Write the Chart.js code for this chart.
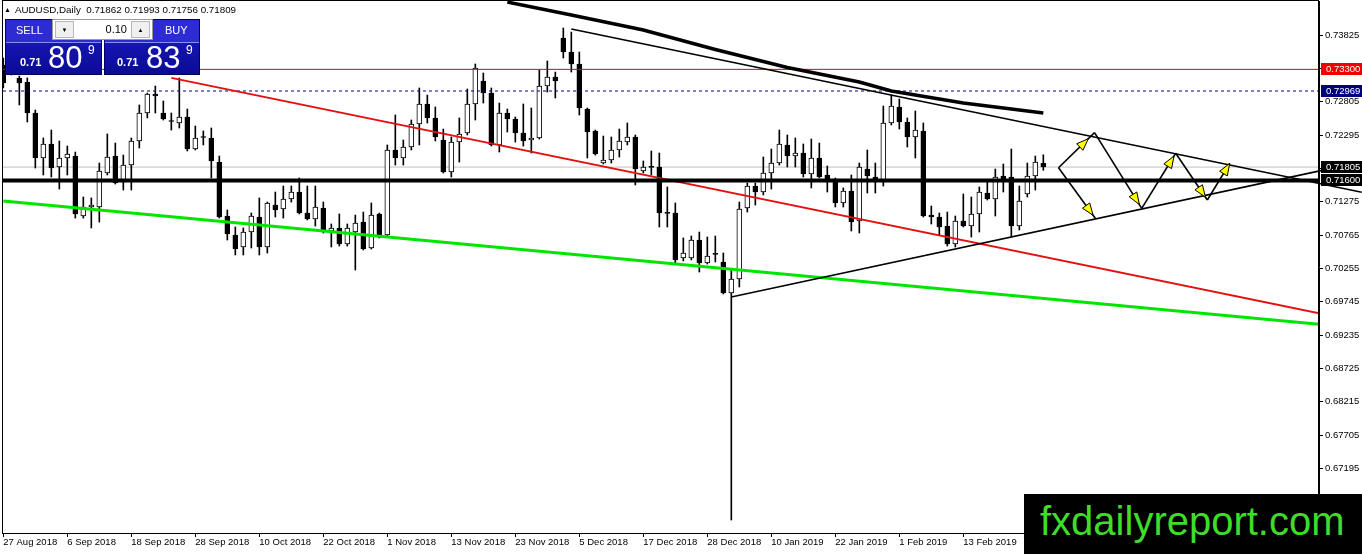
<!DOCTYPE html>
<html>
<head>
<meta charset="utf-8">
<title>AUDUSD Daily</title>
<script src="https://cdn.jsdelivr.net/npm/chart.js@4.4.1/dist/chart.umd.min.js"></script>
<style>
  html, body { margin: 0; padding: 0; background: #fff; overflow: hidden; }
  #wrap { position: relative; width: 1362px; height: 554px; font-family: "Liberation Sans", Arial, sans-serif; }
  #c { position: absolute; left: 0; top: 0; }
  #hdr { position: absolute; left: 4px; top: 4px; font-size: 9.8px; color: #000; white-space: nowrap; }
  #hdr .tri { font-size: 7px; margin-right: 4px; position: relative; top: -1px; }
  .pnl { position: absolute; top: 19px; height: 56px; background: linear-gradient(#1c1cc4, #0b0b96); border: 1px solid #000060; box-sizing: border-box; }
  .pnl .top { position: absolute; left: 0; right: 0; top: 0; height: 22px; background: #2c2cd2; border-bottom: 1px solid #8c8cff; }
  .pnl .lbl { position: absolute; top: 4px; color: #fff; font-size: 11px; }
  .pnl .big { position: absolute; color: #fff; white-space: nowrap; }
  #lot { position: absolute; left: 52px; top: 19px; width: 101px; height: 21px; background: #fff; border: 1px solid #9a9a9a; box-sizing: border-box; }
  #lot .btn { position: absolute; top: 1px; width: 19px; height: 17px; background: #f0f0f0; border: 1px solid #b8b8b8; box-sizing: border-box; font-size: 6px; text-align: center; line-height: 16px; color: #000; }
  #lot .val { position: absolute; right: 25px; top: 3px; font-size: 11px; color: #000; }
  #brand { position: absolute; left: 1024px; top: 494px; width: 338px; height: 60px; background: #000; }
  #brand span { position: absolute; left: 16px; top: 7px; font-size: 40px; line-height: 40px; color: #3fdc2a; white-space: nowrap; }
</style>
</head>
<body>
<div id="wrap">
  <canvas id="c" width="1362" height="554"></canvas>

  <div id="hdr"><span class="tri">&#9650;</span>AUDUSD,Daily&nbsp; 0.71862 0.71993 0.71756 0.71809</div>

  <div class="pnl" style="left:5px;width:97px;">
    <div class="top"></div>
    <div class="lbl" style="left:10px;">SELL</div>
    <div class="big" style="left:14px;top:36px;font-size:11px;font-weight:bold;">0.71</div>
    <div class="big" style="left:42px;top:20px;font-size:31px;">80</div>
    <div class="big" style="left:82px;top:23px;font-size:12px;">9</div>
  </div>
  <div class="pnl" style="left:104px;width:96px;">
    <div class="top"></div>
    <div class="lbl" style="left:60px;">BUY</div>
    <div class="big" style="left:12px;top:36px;font-size:11px;font-weight:bold;">0.71</div>
    <div class="big" style="left:41px;top:20px;font-size:31px;">83</div>
    <div class="big" style="left:81px;top:23px;font-size:12px;">9</div>
  </div>
  <div id="lot">
    <div class="btn" style="left:2px;">&#9660;</div>
    <div class="val">0.10</div>
    <div class="btn" style="right:2px;">&#9650;</div>
  </div>

  <div id="brand"><span>fxdailyreport.com</span></div>
</div>

<script>
// daily bars, 27 Aug 2018 .. 27 Feb 2019 (bar index 0..130)
const open = [
  0.73367, 0.73290, 0.73168, 0.73106, 0.72632, 0.71944, 0.72158, 0.71806, 0.71944, 0.71974,
  0.71056, 0.71194, 0.71194, 0.71714, 0.71974, 0.71577, 0.71836, 0.72204, 0.72632, 0.72923,
  0.72632, 0.72510, 0.72479, 0.72571, 0.72081, 0.72265, 0.72250, 0.71882, 0.71056, 0.70766,
  0.70582, 0.70811, 0.71041, 0.70582, 0.71224, 0.71163, 0.71316, 0.71423, 0.71102, 0.71010,
  0.71179, 0.70827, 0.70873, 0.70628, 0.70811, 0.70964, 0.70567, 0.71087, 0.70766, 0.72066,
  0.71944, 0.72112, 0.72464, 0.72770, 0.72556, 0.72219, 0.71729, 0.72188, 0.72326, 0.72770,
  0.73122, 0.72938, 0.72143, 0.72632, 0.72540, 0.72326, 0.72219, 0.72250, 0.73045, 0.73183,
  0.73780, 0.73565, 0.73382, 0.72693, 0.72357, 0.71867, 0.71913, 0.72066, 0.72188, 0.72265,
  0.71745, 0.71806, 0.71806, 0.71102, 0.71102, 0.70414, 0.70414, 0.70689, 0.70337, 0.70475,
  0.70353, 0.69878, 0.70092, 0.71179, 0.71515, 0.71423, 0.71714, 0.71867, 0.72143, 0.71974,
  0.72020, 0.71699, 0.71944, 0.71684, 0.71607, 0.71255, 0.71439, 0.70980, 0.71775, 0.71653,
  0.71577, 0.72479, 0.72724, 0.72495, 0.72265, 0.72357, 0.71071, 0.71041, 0.70903, 0.70628,
  0.70980, 0.70903, 0.71087, 0.71408, 0.71316, 0.71668, 0.71653, 0.70903, 0.71393, 0.71668,
  0.71862
];
const high = [
  0.73474, 0.73596, 0.73198, 0.73168, 0.72678, 0.72250, 0.72372, 0.72204, 0.72127, 0.72035,
  0.71347, 0.71332, 0.71867, 0.72311, 0.72173, 0.71989, 0.72250, 0.72755, 0.72938, 0.73045,
  0.72816, 0.72632, 0.73168, 0.72693, 0.72433, 0.72357, 0.72403, 0.71974, 0.71148, 0.70888,
  0.70873, 0.71102, 0.71332, 0.71270, 0.71423, 0.71515, 0.71515, 0.71638, 0.71515, 0.71515,
  0.71270, 0.70934, 0.71087, 0.70934, 0.71071, 0.71117, 0.71255, 0.71102, 0.72143, 0.72602,
  0.72219, 0.72525, 0.73015, 0.72907, 0.72724, 0.72387, 0.72265, 0.72556, 0.72999, 0.73382,
  0.73244, 0.73015, 0.72785, 0.72693, 0.72571, 0.72770, 0.72709, 0.73290, 0.73428, 0.73259,
  0.73933, 0.73871, 0.73565, 0.72709, 0.72372, 0.72280, 0.72265, 0.72387, 0.72479, 0.72296,
  0.71898, 0.72051, 0.72020, 0.71500, 0.71255, 0.70720, 0.70750, 0.70811, 0.70735, 0.70750,
  0.70490, 0.70230, 0.71270, 0.71561, 0.71561, 0.71959, 0.72081, 0.72372, 0.72296, 0.72250,
  0.72158, 0.72234, 0.72173, 0.71821, 0.71638, 0.71485, 0.71684, 0.71867, 0.72066, 0.71867,
  0.72739, 0.72907, 0.72846, 0.72556, 0.72663, 0.72479, 0.71209, 0.71102, 0.71117, 0.71056,
  0.71393, 0.71347, 0.71500, 0.71592, 0.71775, 0.71852, 0.72081, 0.71515, 0.71867, 0.71974,
  0.71993
];
const low = [
  0.73015, 0.73214, 0.72755, 0.72495, 0.71791, 0.71684, 0.71653, 0.71469, 0.71684, 0.71025,
  0.71025, 0.70873, 0.70964, 0.71684, 0.71546, 0.71454, 0.71454, 0.72097, 0.72556, 0.72632,
  0.72525, 0.72372, 0.72403, 0.72051, 0.72066, 0.72143, 0.71638, 0.71025, 0.70689, 0.70460,
  0.70460, 0.70567, 0.70460, 0.70490, 0.71041, 0.71025, 0.71270, 0.71087, 0.70995, 0.70903,
  0.70796, 0.70582, 0.70597, 0.70597, 0.70230, 0.70536, 0.70551, 0.70720, 0.70750, 0.71836,
  0.71836, 0.72066, 0.72143, 0.72479, 0.72204, 0.71714, 0.71653, 0.71882, 0.72296, 0.72525,
  0.72785, 0.72127, 0.72035, 0.72341, 0.72188, 0.72127, 0.72020, 0.72234, 0.72953, 0.72862,
  0.73474, 0.73259, 0.72602, 0.71944, 0.71989, 0.71852, 0.71867, 0.71959, 0.72143, 0.71531,
  0.71714, 0.71684, 0.70888, 0.70888, 0.70337, 0.70368, 0.70383, 0.70199, 0.70322, 0.70353,
  0.69863, 0.66405, 0.69970, 0.71117, 0.71224, 0.71378, 0.71469, 0.71836, 0.71806, 0.71806,
  0.71653, 0.71485, 0.71638, 0.71423, 0.71194, 0.71194, 0.70827, 0.70796, 0.71408, 0.71408,
  0.71515, 0.72449, 0.72387, 0.72112, 0.71944, 0.71041, 0.70934, 0.70766, 0.70597, 0.70582,
  0.70888, 0.70735, 0.70811, 0.71301, 0.71056, 0.71423, 0.70735, 0.70842, 0.71347, 0.71454,
  0.71756
];
const close = [
  0.73091, 0.73443, 0.73091, 0.72632, 0.71944, 0.72158, 0.71791, 0.71944, 0.72005, 0.71087,
  0.71194, 0.71224, 0.71745, 0.71959, 0.71561, 0.71836, 0.72204, 0.72632, 0.72923, 0.72892,
  0.72540, 0.72502, 0.72571, 0.72081, 0.72250, 0.72258, 0.71898, 0.71041, 0.70781, 0.70551,
  0.70811, 0.71056, 0.70582, 0.71255, 0.71148, 0.71316, 0.71423, 0.71102, 0.71010, 0.71194,
  0.70842, 0.70873, 0.70628, 0.70873, 0.70949, 0.70551, 0.71071, 0.70735, 0.72066, 0.71944,
  0.72112, 0.72464, 0.72770, 0.72556, 0.72265, 0.71729, 0.72188, 0.72311, 0.72770, 0.73321,
  0.72938, 0.72143, 0.72632, 0.72540, 0.72326, 0.72204, 0.72250, 0.73045, 0.73183, 0.73122,
  0.73565, 0.73382, 0.72709, 0.72341, 0.72005, 0.71913, 0.72066, 0.72204, 0.72265, 0.71775,
  0.71806, 0.71801, 0.71102, 0.71097, 0.70383, 0.70490, 0.70689, 0.70337, 0.70444, 0.70470,
  0.69878, 0.70092, 0.71163, 0.71515, 0.71423, 0.71714, 0.71867, 0.72158, 0.71974, 0.72020,
  0.71699, 0.71944, 0.71653, 0.71577, 0.71255, 0.71439, 0.70964, 0.71806, 0.71668, 0.71577,
  0.72479, 0.72739, 0.72495, 0.72265, 0.72372, 0.71056, 0.71041, 0.70888, 0.70628, 0.70980,
  0.70903, 0.71087, 0.71423, 0.71316, 0.71653, 0.71622, 0.70903, 0.71286, 0.71668, 0.71882,
  0.71809
];

// date axis: a label every 8 bars
const xTickBars = [0, 8, 16, 24, 32, 40, 48, 56, 64, 72, 80, 88, 96, 104, 112, 120];
const xTickLabels = ['27 Aug 2018', '6 Sep 2018', '18 Sep 2018', '28 Sep 2018', '10 Oct 2018',
  '22 Oct 2018', '1 Nov 2018', '13 Nov 2018', '23 Nov 2018', '5 Dec 2018', '17 Dec 2018',
  '28 Dec 2018', '10 Jan 2019', '22 Jan 2019', '1 Feb 2019', '13 Feb 2019'];
const yTicks = [0.73825, 0.73315, 0.72805, 0.72295, 0.71785, 0.71275, 0.70765, 0.70255,
  0.69745, 0.69235, 0.68725, 0.68215, 0.67705, 0.67195, 0.66685];

// visible range (bar index / price), the chart is shifted to leave room on the right
const xMin = -0.04, xMax = 164.46;
const yMin = 0.66206, yMax = 0.74346;

// horizontal levels
const levelTop = 0.73300;     // red
const levelDash = 0.72969;    // navy dashed
const levelBid = 0.71805;     // bid line
const levelMain = 0.71600;    // thick black

// trend lines: [bar, price] end points
const redTrendX = [21, 164.5], redTrendY = [0.73170, 0.69567];
const greenTrendX = [0, 164.5], greenTrendY = [0.71286, 0.69400];
// triangle sides run on across the price scale to the window edge
const triUpperX = [71, 169.8], triUpperY = [0.73917, 0.71421];
const triLowerX = [91, 169.8], triLowerY = [0.69817, 0.71884];
// heavy descending line
const heavyX = [63, 71, 80, 89, 98, 107, 111, 120, 130];
const heavyY = [0.74330, 0.74132, 0.73902, 0.73604, 0.73328, 0.73106, 0.72969, 0.72785, 0.72632];

// projected zigzag with arrows
const zigX = [131.9, 136.4, 136.5, 142.3, 146.55, 150.5, 153.3];
const zigY = [0.71795, 0.72331, 0.71021, 0.71174, 0.72016, 0.71301, 0.71862];
const zigSegments = [[0, 1], [0, 2], [1, 3], [3, 4], [4, 5], [5, 6]];
const headAt = [0.83, 0.94, 0.95, 0.95, 0.94, 1.0];

// price labels on the axis
const markPrices = [levelTop, levelDash, levelBid, levelMain];
const markColors = ['#f00000', '#000080', '#000000', '#000000'];

const bars = open.map((v, i) => i);

function pts(xs, ys) {
  return xs.map((x, k) => ({x: x, y: ys[k]}));
}
function level(p) {
  return [{x: xMin, y: p}, {x: xMax, y: p}];
}
function lineSet(data, color, width, order, dash) {
  return {
    type: 'line', data: data, borderColor: color, borderWidth: width,
    pointRadius: 0, tension: 0, fill: false, order: order, borderDash: dash || []
  };
}

const framePlugin = {
  id: 'frame',
  afterDraw(chart) {
    const {ctx, chartArea: a} = chart;
    ctx.save();
    ctx.strokeStyle = '#000';
    ctx.lineWidth = 1;
    ctx.strokeRect(a.left - 0.5, a.top - 0.5, a.right - a.left, a.bottom - a.top + 1);
    ctx.restore();
  }
};

const arrowPlugin = {
  id: 'arrows',
  afterDatasetsDraw(chart) {
    const {ctx, scales: {x, y}} = chart;
    ctx.save();
    zigSegments.forEach(([a, b], k) => {
      const x1 = x.getPixelForValue(zigX[a]), y1 = y.getPixelForValue(zigY[a]);
      const x2 = x.getPixelForValue(zigX[b]), y2 = y.getPixelForValue(zigY[b]);
      ctx.strokeStyle = '#000';
      ctx.lineWidth = 1.6;
      ctx.beginPath();
      ctx.moveTo(x1, y1);
      ctx.lineTo(x2, y2);
      ctx.stroke();

      // yellow head
      const tx = x1 + (x2 - x1) * headAt[k], ty = y1 + (y2 - y1) * headAt[k];
      const ang = Math.atan2(y2 - y1, x2 - x1);
      const len = 12, half = 4.5;
      const bx = tx - Math.cos(ang) * len, by = ty - Math.sin(ang) * len;
      ctx.beginPath();
      ctx.moveTo(tx, ty);
      ctx.lineTo(bx + Math.sin(ang) * half, by - Math.cos(ang) * half);
      ctx.lineTo(bx - Math.sin(ang) * half, by + Math.cos(ang) * half);
      ctx.closePath();
      ctx.fillStyle = '#ffff00';
      ctx.fill();
      ctx.lineWidth = 1;
      ctx.stroke();
    });
    ctx.restore();
  }
};

const markPlugin = {
  id: 'marks',
  afterDraw(chart) {
    const {ctx, chartArea: a, scales: {y}} = chart;
    ctx.save();
    ctx.font = '9.5px "Liberation Sans", Arial, sans-serif';
    ctx.textBaseline = 'middle';
    markPrices.forEach((p, k) => {
      const py = Math.round(y.getPixelForValue(p));
      ctx.fillStyle = markColors[k];
      ctx.fillRect(a.right + 2, py - 6, 43, 12);
      ctx.fillStyle = '#fff';
      ctx.fillText(p.toFixed(5), a.right + 7, py + 0.5);
    });
    ctx.restore();
  }
};

Chart.defaults.font.family = '"Liberation Sans", Arial, sans-serif';
Chart.defaults.font.size = 9.5;
Chart.defaults.color = '#000';

const upper = lineSet(pts(triUpperX, triUpperY), '#000', 1.6, 1);
const lower = lineSet(pts(triLowerX, triLowerY), '#000', 1.6, 1);
upper.clip = false;
lower.clip = false;

new Chart(document.getElementById('c').getContext('2d'), {
  type: 'bar',
  data: {
    datasets: [
      lineSet(level(levelBid), '#c0c0c0', 1, 9),
      {
        type: 'bar', label: 'wick',
        data: bars.map(i => ({x: i, y: [low[i], high[i]]})),
        backgroundColor: '#000', barThickness: 1, grouped: false, order: 8
      },
      {
        type: 'bar', label: 'body',
        data: bars.map(i => ({x: i, y: [open[i], close[i]]})),
        backgroundColor: bars.map(i => close[i] >= open[i] ? '#fff' : '#000'),
        borderColor: '#000', borderWidth: 1, borderSkipped: false,
        barThickness: 5, minBarLength: 1, grouped: false, order: 7
      },
      lineSet(level(levelTop), '#e00000', 1, 3),
      lineSet(level(levelDash), '#000080', 1, 3, [3, 3]),
      lineSet(pts(greenTrendX, greenTrendY), '#00e600', 3, 2),
      lineSet(pts(redTrendX, redTrendY), '#e41010', 2, 2),
      upper,
      lower,
      lineSet(pts(heavyX, heavyY), '#000', 3.5, 1),
      lineSet(level(levelMain), '#000', 4, 0)
    ]
  },
  options: {
    responsive: false,
    animation: false,
    layout: {padding: {left: 3, top: 1, right: 0, bottom: 0}},
    plugins: {legend: {display: false}, tooltip: {enabled: false}},
    scales: {
      x: {
        type: 'linear', min: xMin, max: xMax, offset: false,
        afterBuildTicks: s => { s.ticks = xTickBars.map(v => ({value: v})); },
        afterFit: s => { s.height = 21; s.paddingLeft = 0; s.paddingRight = 0; },
        grid: {drawOnChartArea: false, drawTicks: true, tickLength: 4, color: '#000', offset: false},
        border: {display: true, color: '#000', width: 1},
        ticks: {
          align: 'start', maxRotation: 0, minRotation: 0, autoSkip: false, padding: 0,
          callback: v => xTickLabels[xTickBars.indexOf(v)]
        }
      },
      y: {
        type: 'linear', position: 'right', min: yMin, max: yMax,
        afterBuildTicks: s => { s.ticks = yTicks.map(v => ({value: v})); },
        afterFit: s => { s.width = 43; s.paddingTop = 0; s.paddingBottom = 0; },
        grid: {drawOnChartArea: false, drawTicks: true, tickLength: 4, color: '#000'},
        border: {display: true, color: '#000', width: 1},
        ticks: {padding: 2, autoSkip: false, callback: v => v.toFixed(5)}
      }
    }
  },
  plugins: [framePlugin, arrowPlugin, markPlugin]
});
</script>
</body>
</html>
